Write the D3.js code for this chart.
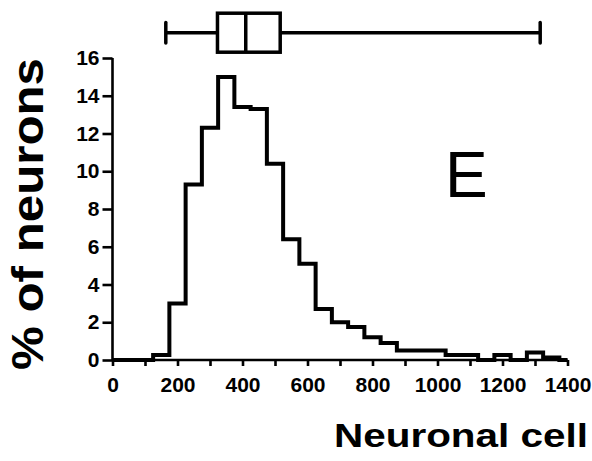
<!DOCTYPE html>
<html><head><meta charset="utf-8">
<script src="https://cdn.jsdelivr.net/npm/d3@7"></script>
<style>body{margin:0;background:#fff}svg{display:block}</style>
</head><body>
<svg id="c" width="592" height="461"></svg>
<script>
// Histogram bins (center of each 50-unit bin) and % of neurons
const binCenters = [0,50,100,150,200,250,300,350,400,450,500,550,600,650,700,750,800,850,900,950,1000,1050,1100,1150,1200,1250,1300,1350,1400];
const percent =    [0,0,0,0.26,3.0,9.3,12.3,15.0,13.4,13.3,10.4,6.4,5.1,2.7,2.0,1.75,1.2,0.9,0.5,0.5,0.5,0.26,0.26,0,0.26,0,0.4,0.13,0];
// Box plot summary (min, Q1, median, Q3, max)
const boxStats = [164, 323, 410, 516, 1316];
const xTicks = [0,100,200,300,400,500,600,700,800,900,1000,1100,1200,1300,1400];
const yTicks = [0,2,4,6,8,10,12,14,16];
const binWidth = 50;

const svg = d3.select("#c");
const FONT = "'Liberation Sans', Arial, Helvetica, sans-serif";
const x = d3.scaleLinear().domain([0,1400]).range([112.5,567.5]);
const y = d3.scaleLinear().domain([0,16]).range([360,58]);

// axes
const xAxis = d3.axisBottom(x).tickValues(xTicks).tickSize(6).tickPadding(11)
  .tickFormat(d => d % 200 === 0 ? d : "");
const gx = svg.append("g").attr("transform","translate(0,360)").call(xAxis);
const yAxis = d3.axisLeft(y).tickValues(yTicks).tickSize(10).tickPadding(3);
const gy = svg.append("g").attr("transform","translate(112.5,0)").call(yAxis);
[gx,gy].forEach(g=>{
  g.select(".domain").attr("stroke","#000").attr("stroke-width",2.6);
  g.selectAll(".tick line").attr("stroke","#000").attr("stroke-width",2.6);
  g.selectAll(".tick text").attr("fill","#000").style("font-family",FONT)
   .style("font-size","21px").style("font-weight","bold");
});
gx.select(".domain").attr("d", `M${x(0)},0H${x(1400)}`);
gy.select(".domain").attr("d", `M0,${y(16)}V${y(0)}`);

// histogram step outline
const pts = binCenters.map((c,i)=>[Math.max(0,c-binWidth/2), percent[i]]);
pts.push([1400, percent[percent.length-1]]);
svg.append("path")
  .attr("d", d3.line().x(d=>x(d[0])).y(d=>y(d[1])).curve(d3.curveStepAfter)(pts))
  .attr("fill","none").attr("stroke","#000").attr("stroke-width",4)
  .attr("stroke-linejoin","miter");

// box plot
const by = 32.7, bh = 39, capH = 20.6;
const bp = svg.append("g").attr("stroke","#000").attr("stroke-width",3.5).attr("fill","none");
bp.append("line").attr("x1",x(boxStats[0])).attr("x2",x(boxStats[1])).attr("y1",by).attr("y2",by);
bp.append("line").attr("x1",x(boxStats[3])).attr("x2",x(boxStats[4])).attr("y1",by).attr("y2",by);
bp.append("line").attr("x1",x(boxStats[0])).attr("x2",x(boxStats[0])).attr("y1",by-capH/2).attr("y2",by+capH/2).attr("stroke-linecap","round");
bp.append("line").attr("x1",x(boxStats[4])).attr("x2",x(boxStats[4])).attr("y1",by-capH/2).attr("y2",by+capH/2).attr("stroke-linecap","round");
bp.append("rect").attr("x",x(boxStats[1])).attr("y",by-bh/2).attr("width",x(boxStats[3])-x(boxStats[1])).attr("height",bh);
bp.append("line").attr("x1",x(boxStats[2])).attr("x2",x(boxStats[2])).attr("y1",by-bh/2).attr("y2",by+bh/2);

// labels
svg.append("text").text("% of neurons")
  .attr("transform","translate(43,214) rotate(-90)")
  .attr("text-anchor","middle").attr("textLength",312).attr("lengthAdjust","spacingAndGlyphs")
  .style("font-family",FONT).style("font-size","44px").style("font-weight","bold");
svg.append("text").text("Neuronal cell")
  .attr("x",334).attr("y",447).attr("textLength",254).attr("lengthAdjust","spacingAndGlyphs")
  .style("font-family",FONT).style("font-size","34px").style("font-weight","bold");
svg.append("text").text("E")
  .attr("x",445).attr("y",197.3)
  .style("font-family",FONT).style("font-size","64px");
</script>
</body></html>
